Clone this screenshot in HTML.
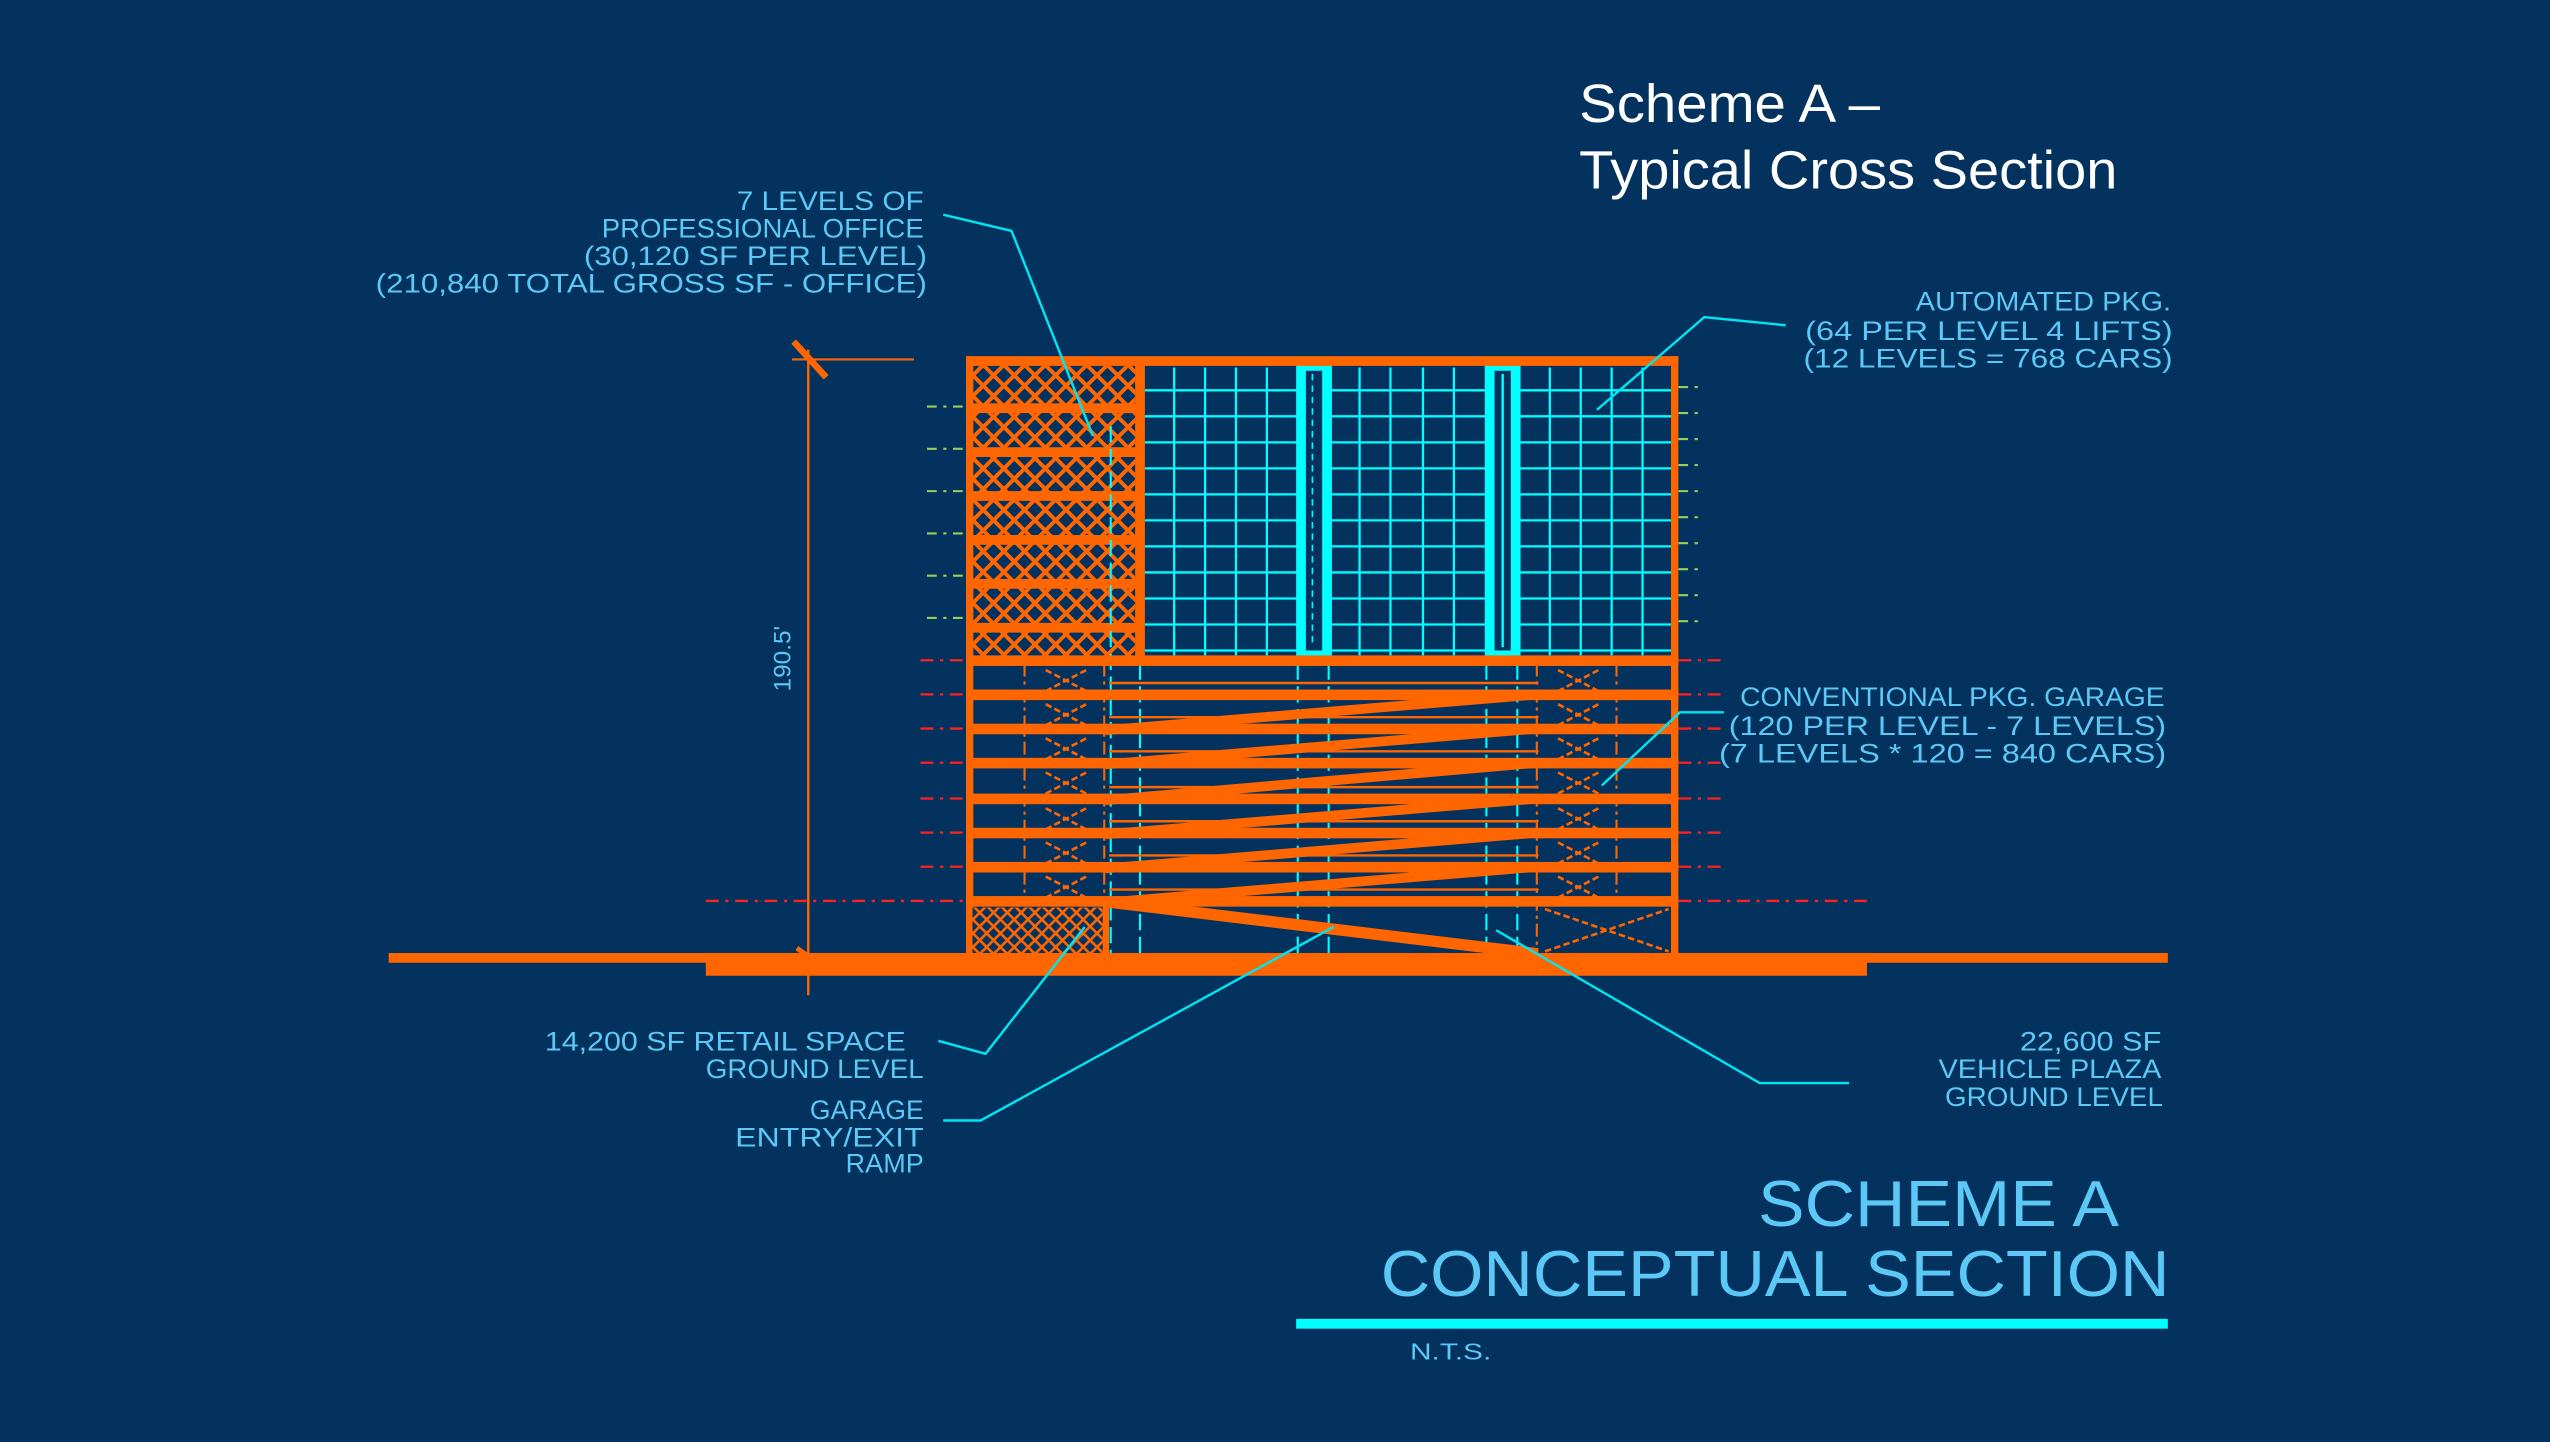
<!DOCTYPE html>
<html><head><meta charset="utf-8"><style>
html,body{margin:0;padding:0;background:#03325f;}
svg{display:block}
.t{font-family:"Liberation Sans",sans-serif;fill:#5cc8f5;font-size:16.5px;text-anchor:end;}
</style></head><body>
<svg width="2550" height="1442" viewBox="0 0 1568 886.7" preserveAspectRatio="none" xmlns="http://www.w3.org/2000/svg">
<defs>
<pattern id="h1" width="9" height="9" patternUnits="userSpaceOnUse" patternTransform="rotate(45)">
<rect width="9" height="9" fill="#03325f"/><rect width="2.4" height="9" fill="#ff6600"/><rect width="9" height="2.4" fill="#ff6600"/>
</pattern>
<pattern id="h2" width="6" height="6" patternUnits="userSpaceOnUse" patternTransform="rotate(45)">
<rect width="6" height="6" fill="#03325f"/><rect width="1.6" height="6" fill="#ff6600"/><rect width="6" height="1.6" fill="#ff6600"/>
</pattern>
</defs>
<rect width="1568" height="886.7" fill="#03325f"/>
<text x="971" y="75" font-family="Liberation Sans,sans-serif" font-size="33" fill="#fff" textLength="185" lengthAdjust="spacingAndGlyphs">Scheme A –</text>
<text x="971" y="116" font-family="Liberation Sans,sans-serif" font-size="33" fill="#fff" textLength="331" lengthAdjust="spacingAndGlyphs">Typical Cross Section</text>

<rect x="239" y="586" width="1094" height="6" fill="#ff6600"/>
<rect x="434" y="586" width="714" height="14" fill="#ff6600"/>

<g stroke="#9ccc5a" stroke-width="1.3" stroke-dasharray="6,4,2,4">
<line x1="570" y1="250" x2="594" y2="250"/><line x1="570" y1="276" x2="594" y2="276"/><line x1="570" y1="302" x2="594" y2="302"/><line x1="570" y1="328" x2="594" y2="328"/><line x1="570" y1="354" x2="594" y2="354"/><line x1="570" y1="380" x2="594" y2="380"/>
<line x1="1032" y1="238" x2="1048" y2="238"/><line x1="1032" y1="254" x2="1048" y2="254"/><line x1="1032" y1="270" x2="1048" y2="270"/><line x1="1032" y1="286" x2="1048" y2="286"/><line x1="1032" y1="302" x2="1048" y2="302"/><line x1="1032" y1="318" x2="1048" y2="318"/><line x1="1032" y1="334" x2="1048" y2="334"/><line x1="1032" y1="350" x2="1048" y2="350"/><line x1="1032" y1="366" x2="1048" y2="366"/><line x1="1032" y1="382" x2="1048" y2="382"/>
</g>
<g stroke="#ff2020" stroke-width="1.4" stroke-dasharray="8,4,2,4">
<line x1="566" y1="406" x2="594" y2="406"/><line x1="566" y1="427" x2="594" y2="427"/><line x1="566" y1="448" x2="594" y2="448"/><line x1="566" y1="469" x2="594" y2="469"/><line x1="566" y1="491" x2="594" y2="491"/><line x1="566" y1="512" x2="594" y2="512"/><line x1="566" y1="533" x2="594" y2="533"/>
<line x1="1032" y1="406" x2="1060" y2="406"/><line x1="1032" y1="427" x2="1060" y2="427"/><line x1="1032" y1="448" x2="1060" y2="448"/><line x1="1032" y1="469" x2="1060" y2="469"/><line x1="1032" y1="491" x2="1060" y2="491"/><line x1="1032" y1="512" x2="1060" y2="512"/><line x1="1032" y1="533" x2="1060" y2="533"/>
<line x1="434" y1="554" x2="594" y2="554"/><line x1="1032" y1="554" x2="1148" y2="554"/>
</g>

<line x1="497" y1="215" x2="497" y2="612" stroke="#ff6600" stroke-width="1.5"/>
<line x1="487" y1="221" x2="562" y2="221" stroke="#ff6600" stroke-width="1.3"/>
<line x1="488" y1="210" x2="508" y2="232" stroke="#ff6600" stroke-width="4"/>
<line x1="490" y1="583" x2="500" y2="590" stroke="#ff6600" stroke-width="3"/>
<text x="0" y="0" transform="translate(486,405) rotate(-90)" font-family="Liberation Sans,sans-serif" font-size="15" fill="#5cc8f5" text-anchor="middle">190.5'</text>

<rect x="598" y="225" width="100" height="180" fill="url(#h1)"/>
<g fill="#ff6600">
<rect x="594" y="248" width="106" height="6"/><rect x="594" y="275" width="106" height="6"/><rect x="594" y="302" width="106" height="6"/><rect x="594" y="329" width="106" height="6"/><rect x="594" y="356" width="106" height="6"/><rect x="594" y="383" width="106" height="6"/>
<rect x="698" y="221" width="6" height="185"/>
</g>
<line x1="683" y1="262" x2="683" y2="586" stroke="#00ffff" stroke-width="1.3" stroke-dasharray="10,4"/>

<g stroke="#00ffff" stroke-width="1.4">
<line x1="722" y1="226" x2="722" y2="403"/><line x1="741" y1="226" x2="741" y2="403"/><line x1="760" y1="226" x2="760" y2="403"/><line x1="779" y1="226" x2="779" y2="403"/>
<line x1="836" y1="226" x2="836" y2="403"/><line x1="855" y1="226" x2="855" y2="403"/><line x1="875" y1="226" x2="875" y2="403"/><line x1="894" y1="226" x2="894" y2="403"/>
<line x1="953" y1="226" x2="953" y2="403"/><line x1="972" y1="226" x2="972" y2="403"/><line x1="991" y1="226" x2="991" y2="403"/><line x1="1010" y1="226" x2="1010" y2="403"/>
<line x1="704" y1="240" x2="1028" y2="240"/><line x1="704" y1="256" x2="1028" y2="256"/><line x1="704" y1="272" x2="1028" y2="272"/><line x1="704" y1="288" x2="1028" y2="288"/><line x1="704" y1="304" x2="1028" y2="304"/><line x1="704" y1="320" x2="1028" y2="320"/><line x1="704" y1="336" x2="1028" y2="336"/><line x1="704" y1="352" x2="1028" y2="352"/><line x1="704" y1="368" x2="1028" y2="368"/><line x1="704" y1="384" x2="1028" y2="384"/><line x1="704" y1="400" x2="1028" y2="400"/>
</g>
<rect x="797" y="222" width="22" height="184" fill="#00ffff"/>
<rect x="803" y="228" width="10" height="172" fill="#03325f"/>
<rect x="913" y="222" width="22" height="184" fill="#00ffff"/>
<rect x="919" y="228" width="10" height="172" fill="#03325f"/>
<line x1="924" y1="230" x2="924" y2="398" stroke="#00ffff" stroke-width="1.5"/>
<line x1="807" y1="230" x2="807" y2="398" stroke="#00ffff" stroke-width="1" stroke-dasharray="4,3"/>

<g stroke="#00ffff" stroke-width="1.3" stroke-dasharray="10,4">
<line x1="701" y1="408" x2="701" y2="586"/><line x1="798" y1="408" x2="798" y2="586"/><line x1="817" y1="408" x2="817" y2="586"/><line x1="914" y1="408" x2="914" y2="586"/><line x1="933" y1="408" x2="933" y2="586"/>
</g>
<g stroke="#ff6600" stroke-width="1.3" stroke-dasharray="8,3,2,3">
<line x1="630" y1="408" x2="630" y2="553"/><line x1="679" y1="408" x2="679" y2="553"/><line x1="945" y1="408" x2="945" y2="586"/><line x1="994" y1="408" x2="994" y2="553"/>
</g>
<g stroke="#ff6600" stroke-width="1.6" stroke-dasharray="4,2" fill="none">
<path d="M643 412 L668 425 M643 425 L668 412 M958 412 L983 425 M958 425 L983 412"/>
<path d="M643 433 L668 446 M643 446 L668 433 M958 433 L983 446 M958 446 L983 433"/>
<path d="M643 454 L668 467 M643 467 L668 454 M958 454 L983 467 M958 467 L983 454"/>
<path d="M643 475 L668 488 M643 488 L668 475 M958 475 L983 488 M958 488 L983 475"/>
<path d="M643 497 L668 510 M643 510 L668 497 M958 497 L983 510 M958 510 L983 497"/>
<path d="M643 518 L668 531 M643 531 L668 518 M958 518 L983 531 M958 531 L983 518"/>
<path d="M643 539 L668 552 M643 552 L668 539 M958 539 L983 552 M958 552 L983 539"/>
<path d="M950 559 L1026 585 M950 585 L1026 559"/>
</g>

<g fill="#ff6600">
<rect x="594" y="219" width="438" height="6"/>
<rect x="594" y="219" width="4.5" height="370"/><rect x="1027.5" y="219" width="4.5" height="370"/>
<rect x="594" y="403" width="438" height="6.5"/>
<rect x="594" y="424" width="438" height="6.5"/>
<rect x="594" y="445" width="438" height="6.5"/>
<rect x="594" y="466" width="438" height="6.5"/>
<rect x="594" y="488" width="438" height="6.5"/>
<rect x="594" y="509" width="438" height="6.5"/>
<rect x="594" y="530" width="438" height="6.5"/>
<rect x="594" y="551" width="438" height="6.5"/>
<rect x="678" y="557" width="4" height="30"/>
</g>
<g fill="#ff6600">
<polygon points="680,446 946,424 946,430 680,452"/>
<polygon points="680,467 946,445 946,451 680,473"/>
<polygon points="680,489 946,466 946,472 680,495"/>
<polygon points="680,510 946,488 946,494 680,516"/>
<polygon points="680,531 946,509 946,515 680,537"/>
<polygon points="680,552 946,530 946,536 680,558"/>
<polygon points="680,551 946,583 946,590 680,558"/>
</g>
<g stroke="#ff6600" stroke-width="1.5">
<line x1="682" y1="420" x2="946" y2="420"/><line x1="682" y1="441" x2="946" y2="441"/><line x1="682" y1="462" x2="946" y2="462"/><line x1="682" y1="484" x2="946" y2="484"/><line x1="682" y1="505" x2="946" y2="505"/><line x1="682" y1="526" x2="946" y2="526"/><line x1="682" y1="547" x2="946" y2="547"/>
</g>
<rect x="598" y="558" width="80" height="28" fill="url(#h2)"/>

<g stroke="#00e5f0" stroke-width="1.5" fill="none">
<polyline points="580,132 622,142 672,268"/>
<polyline points="1098,200 1048,195 982,252"/>
<polyline points="1060,438 1033,438 985,483"/>
<polyline points="577,640 606,648 667,570"/>
<polyline points="580,689 603,689 820,570"/>
<polyline points="1137,666 1082,666 920,572"/>
</g>

<text class="t" x="568" y="129" textLength="115" lengthAdjust="spacingAndGlyphs">7 LEVELS OF</text>
<text class="t" x="568" y="146" textLength="198" lengthAdjust="spacingAndGlyphs">PROFESSIONAL OFFICE</text>
<text class="t" x="570" y="163" textLength="211" lengthAdjust="spacingAndGlyphs">(30,120 SF PER LEVEL)</text>
<text class="t" x="570" y="180" textLength="339" lengthAdjust="spacingAndGlyphs">(210,840 TOTAL GROSS SF - OFFICE)</text>
<text class="t" x="1335" y="191" textLength="157" lengthAdjust="spacingAndGlyphs">AUTOMATED PKG.</text>
<text class="t" x="1336" y="209" textLength="226" lengthAdjust="spacingAndGlyphs">(64 PER LEVEL 4 LIFTS)</text>
<text class="t" x="1336" y="226" textLength="227" lengthAdjust="spacingAndGlyphs">(12 LEVELS = 768 CARS)</text>
<text class="t" x="1331" y="434" textLength="261" lengthAdjust="spacingAndGlyphs">CONVENTIONAL PKG. GARAGE</text>
<text class="t" x="1332" y="452" textLength="269" lengthAdjust="spacingAndGlyphs">(120 PER LEVEL - 7 LEVELS)</text>
<text class="t" x="1332" y="469" textLength="275" lengthAdjust="spacingAndGlyphs">(7 LEVELS * 120 = 840 CARS)</text>
<text class="t" x="557" y="646" textLength="222" lengthAdjust="spacingAndGlyphs">14,200 SF RETAIL SPACE</text>
<text class="t" x="568" y="663" textLength="134" lengthAdjust="spacingAndGlyphs">GROUND LEVEL</text>
<text class="t" x="568" y="688" textLength="70" lengthAdjust="spacingAndGlyphs">GARAGE</text>
<text class="t" x="568" y="705" textLength="116" lengthAdjust="spacingAndGlyphs">ENTRY/EXIT</text>
<text class="t" x="568" y="721" textLength="48" lengthAdjust="spacingAndGlyphs">RAMP</text>
<text class="t" x="1329" y="646" textLength="87" lengthAdjust="spacingAndGlyphs">22,600 SF</text>
<text class="t" x="1329" y="663" textLength="137" lengthAdjust="spacingAndGlyphs">VEHICLE PLAZA</text>
<text class="t" x="1330" y="680" textLength="134" lengthAdjust="spacingAndGlyphs">GROUND LEVEL</text>

<text x="1303" y="754" font-family="Liberation Sans,sans-serif" font-size="40" fill="#5cc8f5" text-anchor="end" textLength="222" lengthAdjust="spacingAndGlyphs">SCHEME A</text>
<text x="1334" y="797" font-family="Liberation Sans,sans-serif" font-size="40" fill="#5cc8f5" text-anchor="end" textLength="485" lengthAdjust="spacingAndGlyphs">CONCEPTUAL SECTION</text>
<rect x="797" y="811" width="536" height="6" fill="#00ffff"/>
<text x="867" y="836" font-family="Liberation Sans,sans-serif" font-size="14" fill="#5cc8f5" textLength="50" lengthAdjust="spacingAndGlyphs">N.T.S.</text>
</svg>
</body></html>
